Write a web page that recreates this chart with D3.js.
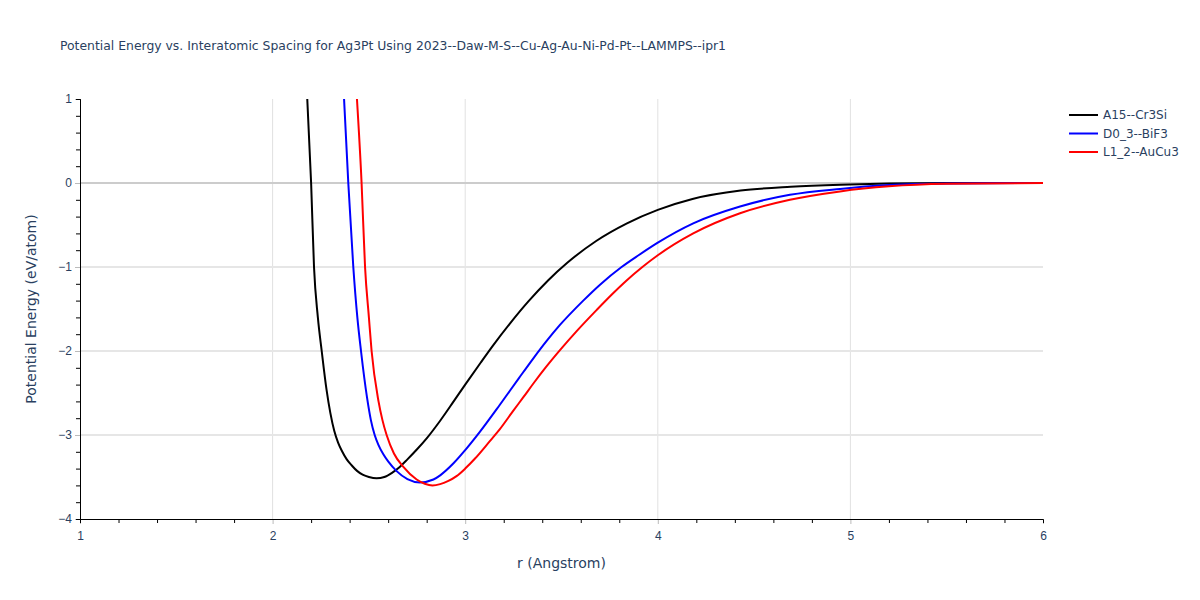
<!DOCTYPE html>
<html lang="en">
<head>
	<meta charset="UTF-8">
	<title>Potential Energy vs. Interatomic Spacing</title>
	<style>
		body { margin: 0; background: #fff; }
		.f-svg { font-family: "DejaVu Sans", Verdana, sans-serif; }
		.tick-label { font-size: 12px; fill: #2a3f5f; }
		.axis-title { font-size: 14px; fill: #2a3f5f; }
		.legend-text { font-size: 12px; fill: #2a3f5f; }
	</style>
	<script src="https://d3js.org/d3.v7.min.js"></script>
</head>
<body>
	<script type="text/javascript">

		// r (Angstrom) and energy (eV/atom)
		const a15R = [2.18, 2.20, 2.215, 2.235, 2.255, 2.28, 2.30, 2.32, 2.34, 2.36, 2.385, 2.41, 2.44, 2.47, 2.50, 2.54, 2.58, 2.62, 2.66, 2.70, 2.75, 2.80, 2.87, 2.94, 3.00, 3.08, 3.146, 3.23, 3.328, 3.43, 3.53, 3.68, 3.84, 4.00, 4.18, 4.43, 4.69, 4.95, 5.20, 5.50, 6.00];
		const a15E = [1.0, 0.0, -1.0, -1.6, -2.0, -2.46, -2.74, -2.95, -3.09, -3.19, -3.29, -3.36, -3.43, -3.475, -3.50, -3.515, -3.50, -3.45, -3.38, -3.29, -3.17, -3.04, -2.83, -2.60, -2.40, -2.14, -1.93, -1.68, -1.41, -1.16, -0.95, -0.69, -0.48, -0.32, -0.19, -0.09, -0.045, -0.02, -0.006, 0, 0];

		const d03R = [2.371, 2.393, 2.419, 2.44, 2.459, 2.49, 2.51, 2.53, 2.55, 2.575, 2.60, 2.644, 2.70, 2.765, 2.835, 2.87, 2.938, 3.00, 3.077, 3.18, 3.28, 3.353, 3.423, 3.492, 3.613, 3.70, 3.812, 3.90, 4.00, 4.184, 4.427, 4.686, 4.946, 5.20, 5.50, 6.00];
		const d03E = [1.0, 0.0, -1.0, -1.6, -2.0, -2.55, -2.82, -3.0, -3.12, -3.23, -3.315, -3.43, -3.525, -3.565, -3.53, -3.48, -3.34, -3.18, -2.96, -2.64, -2.32, -2.09, -1.88, -1.69, -1.40, -1.21, -1.00, -0.86, -0.71, -0.48, -0.28, -0.14, -0.07, -0.025, -0.005, 0];

		const l12R = [2.438, 2.462, 2.48, 2.50, 2.514, 2.55, 2.57, 2.592, 2.63, 2.679, 2.748, 2.79, 2.83, 2.87, 2.91, 2.955, 3.00, 3.051, 3.129, 3.18, 3.25, 3.302, 3.353, 3.42, 3.492, 3.58, 3.683, 3.76, 3.838, 3.92, 4.00, 4.184, 4.427, 4.686, 4.946, 5.20, 5.50, 6.00];
		const l12E = [1.0, 0.0, -1.0, -1.6, -2.0, -2.6, -2.82, -3.0, -3.22, -3.38, -3.53, -3.58, -3.60, -3.585, -3.55, -3.49, -3.40, -3.28, -3.07, -2.93, -2.71, -2.55, -2.39, -2.19, -1.99, -1.76, -1.51, -1.33, -1.16, -1.00, -0.86, -0.60, -0.36, -0.20, -0.10, -0.04, -0.01, 0];

		const seriesNames = ["A15--Cr3Si", "D0_3--BiF3", "L1_2--AuCu3"];
		const seriesColors = ["black", "blue", "red"];
		const seriesR = [a15R, d03R, l12R];
		const seriesE = [a15E, d03E, l12E];

		const xTicks = [1, 2, 3, 4, 5, 6];
		const yTicks = [1, 0, -1, -2, -3, -4];

		const w = 1200,
			  h = 600;
		const mLeft = 80, mRight = 1043, mTop = 99, mBottom = 519;

		const svg = d3.select("body")
					.append("svg")
					.attr("width", w)
					.attr("height", h)
					.attr("class", "f-svg");

		const xScale = d3.scaleLinear().domain([1, 6]).range([mLeft, mRight]);
		const yScale = d3.scaleLinear().domain([-4, 1]).range([mBottom, mTop]);

		// title
		svg.append("text")
		   .attr("x", 60)
		   .attr("y", 50)
		   .style("font-size", "12.4px")
		   .style("fill", "#2a3f5f")
		   .text("Potential Energy vs. Interatomic Spacing for Ag3Pt Using 2023--Daw-M-S--Cu-Ag-Au-Ni-Pd-Pt--LAMMPS--ipr1");

		// grid
		svg.append("g").selectAll("line")
		   .data(xTicks.filter(d => d > 1 && d < 6)).enter()
		   .append("line")
		   .attr("x1", d => xScale(d)).attr("x2", d => xScale(d))
		   .attr("y1", mTop).attr("y2", mBottom)
		   .attr("stroke", "#e1e1e1").attr("stroke-width", 1);

		svg.append("g").selectAll("line")
		   .data(yTicks.filter(d => d > -4 && d < 1 && d !== 0)).enter()
		   .append("line")
		   .attr("x1", mLeft).attr("x2", mRight)
		   .attr("y1", d => yScale(d)).attr("y2", d => yScale(d))
		   .attr("stroke", "#e6e6e6").attr("stroke-width", 2);

		// zero line
		svg.append("line")
		   .attr("x1", mLeft).attr("x2", mRight)
		   .attr("y1", yScale(0)).attr("y2", yScale(0))
		   .attr("stroke", "#cccccc").attr("stroke-width", 2);

		// curves
		svg.append("clipPath").attr("id", "plot-clip")
		   .append("rect")
		   .attr("x", mLeft).attr("y", mTop)
		   .attr("width", mRight - mLeft).attr("height", mBottom - mTop);

		const line = d3.line()
					   .x(d => xScale(d[0]))
					   .y(d => yScale(d[1]))
					   .curve(d3.curveMonotoneX);

		const curves = svg.append("g").attr("clip-path", "url(#plot-clip)");
		seriesNames.forEach(function(name, i) {
			const pts = seriesR[i].map((r, j) => [r, seriesE[i][j]]);
			curves.append("path")
				  .datum(pts)
				  .attr("d", line)
				  .attr("fill", "none")
				  .attr("stroke", seriesColors[i])
				  .attr("stroke-width", 2);
		});

		// axes
		const xAxis = d3.axisBottom(xScale).tickValues(xTicks).tickSize(5).tickPadding(4).tickFormat(d3.format("d"));
		const gx = svg.append("g")
		   .attr("transform", "translate(0," + mBottom + ")")
		   .call(xAxis);
		const xMinor = d3.axisBottom(xScale).tickValues(d3.range(1.2, 6, 0.2).filter(v => Math.abs(v - Math.round(v)) > 0.01)).tickSize(4).tickFormat("");
		svg.append("g").attr("transform", "translate(0," + mBottom + ")").call(xMinor);

		const yAxis = d3.axisLeft(yScale).tickValues(yTicks).tickSize(5).tickPadding(3)
						.tickFormat(d => d < 0 ? "\u2212" + Math.abs(d) : d);
		const gy = svg.append("g")
		   .attr("transform", "translate(" + mLeft + ",0)")
		   .call(yAxis);
		const yMinor = d3.axisLeft(yScale).tickValues(d3.range(-3.8, 1, 0.2).filter(v => Math.abs(v - Math.round(v)) > 0.01)).tickSize(4).tickFormat("");
		svg.append("g").attr("transform", "translate(" + mLeft + ",0)").call(yMinor);

		svg.selectAll(".domain").attr("stroke", "#000");
		[gx, gy].forEach(g => {
			g.selectAll(".tick line").attr("stroke", "#bbb");
			g.selectAll(".tick text").attr("class", "tick-label").attr("font-family", null).attr("font-size", null).attr("fill", null);
		});
		gx.selectAll(".tick text").attr("y", 12);

		// axis titles
		svg.append("text")
		   .attr("class", "axis-title")
		   .attr("x", (mLeft + mRight) / 2)
		   .attr("y", 568)
		   .attr("text-anchor", "middle")
		   .text("r (Angstrom)");

		svg.append("text")
		   .attr("class", "axis-title")
		   .attr("transform", "translate(36," + ((mTop + mBottom) / 2) + ") rotate(-90)")
		   .attr("text-anchor", "middle")
		   .text("Potential Energy (eV/atom)");

		// legend
		const legend = svg.append("g").attr("transform", "translate(1069,115)");
		seriesNames.forEach(function(name, i) {
			const row = legend.append("g").attr("transform", "translate(0," + (i * 18.5) + ")");
			row.append("line")
			   .attr("x1", 0).attr("x2", 29)
			   .attr("y1", 0).attr("y2", 0)
			   .attr("stroke", seriesColors[i])
			   .attr("stroke-width", 2);
			row.append("text")
			   .attr("class", "legend-text")
			   .attr("x", 34)
			   .attr("y", 4)
			   .text(name);
		});

	</script>
</body>
</html>
